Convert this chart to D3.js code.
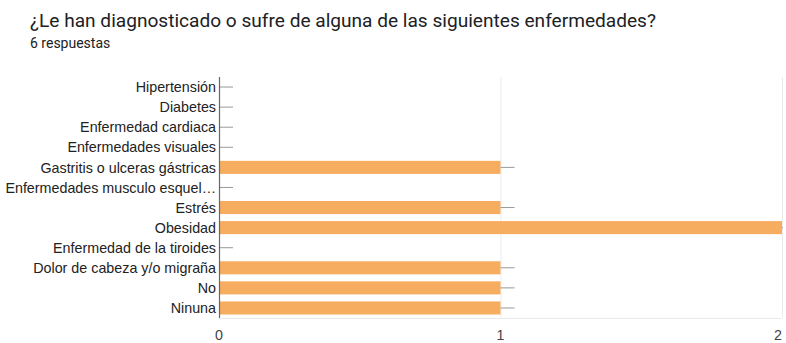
<!DOCTYPE html>
<html>
<head>
<meta charset="utf-8">
<script src="https://cdn.jsdelivr.net/npm/d3@7"></script>
<style>
  html, body { margin: 0; padding: 0; background: #fff; }
  svg { display: block; }
</style>
</head>
<body>
<svg id="chart" width="786" height="343"></svg>
<script>
const categories = [
  "Hipertensión",
  "Diabetes",
  "Enfermedad cardiaca",
  "Enfermedades visuales",
  "Gastritis o ulceras gástricas",
  "Enfermedades musculo esquel…",
  "Estrés",
  "Obesidad",
  "Enfermedad de la tiroides",
  "Dolor de cabeza y/o migraña",
  "No",
  "Ninuna"
];
const values = [0, 0, 0, 0, 1, 0, 1, 2, 0, 1, 1, 1];
const xTicks = [0, 1, 2];

const title = "¿Le han diagnosticado o sufre de alguna de las siguientes enfermedades?";
const subtitle = "6 respuestas";

const svg = d3.select("#chart");
const plotLeft = 219, plotRight = 782, plotTop = 77, plotBottom = 318;

svg.append("text")
  .attr("x", 30).attr("y", 27)
  .attr("font-family", "Roboto, Arial, sans-serif")
  .attr("font-size", 19.1)
  .attr("fill", "#202124")
  .text(title);

svg.append("text")
  .attr("x", 30).attr("y", 48)
  .attr("font-family", "Roboto, Arial, sans-serif")
  .attr("font-size", 14)
  .attr("fill", "#202124")
  .text(subtitle);

const x = d3.scaleLinear().domain([0, 2]).range([plotLeft, plotRight]);
const y = d3.scaleBand().domain(categories).range([plotTop, plotBottom]).paddingInner(0.35).paddingOuter(0.175);

// gridlines
svg.append("g")
  .selectAll("line")
  .data(xTicks.filter(t => t > 0))
  .join("line")
  .attr("x1", d => x(d) + 0.5).attr("x2", d => x(d) + 0.5)
  .attr("y1", plotTop).attr("y2", plotBottom)
  .attr("stroke", "#ebebeb").attr("stroke-width", 1);

svg.append("line")
  .attr("x1", plotLeft).attr("x2", plotRight)
  .attr("y1", plotBottom + 0.5).attr("y2", plotBottom + 0.5)
  .attr("stroke", "#ebebeb");

// bars
svg.append("g")
  .selectAll("rect")
  .data(categories)
  .join("rect")
  .attr("x", x(0))
  .attr("y", d => y(d))
  .attr("width", (d, i) => x(values[i]) - x(0))
  .attr("height", y.bandwidth())
  .attr("fill", "#f6ad60");

// value stems
svg.append("g")
  .selectAll("line")
  .data(categories)
  .join("line")
  .attr("x1", (d, i) => x(values[i]))
  .attr("x2", (d, i) => Math.min(x(values[i]) + 14, plotRight + 1))
  .attr("y1", d => y(d) + y.bandwidth() / 2)
  .attr("y2", d => y(d) + y.bandwidth() / 2)
  .attr("stroke", "#999").attr("stroke-width", 1);

// category axis
const yAxis = svg.append("g").attr("transform", `translate(${plotLeft},0)`);
yAxis.append("line")
  .attr("x1", 0.5).attr("x2", 0.5)
  .attr("y1", plotTop).attr("y2", plotBottom)
  .attr("stroke", "#666").attr("stroke-width", 1.2);
yAxis.selectAll("text")
  .data(categories)
  .join("text")
  .attr("x", -3)
  .attr("y", d => y(d) + y.bandwidth() / 2)
  .attr("dy", "0.36em")
  .attr("text-anchor", "end")
  .attr("font-family", "Arial, 'Liberation Sans', sans-serif")
  .attr("font-size", 14.3)
  .attr("fill", "#222")
  .text(d => d);

// value axis labels
svg.append("g")
  .selectAll("text")
  .data(xTicks)
  .join("text")
  .attr("x", d => x(d))
  .attr("y", 340)
  .attr("text-anchor", d => d === 2 ? "end" : "middle")
  .attr("font-family", "Arial, 'Liberation Sans', sans-serif")
  .attr("font-size", 14.3)
  .attr("fill", "#444")
  .text(d => d);
</script>
</body>
</html>
